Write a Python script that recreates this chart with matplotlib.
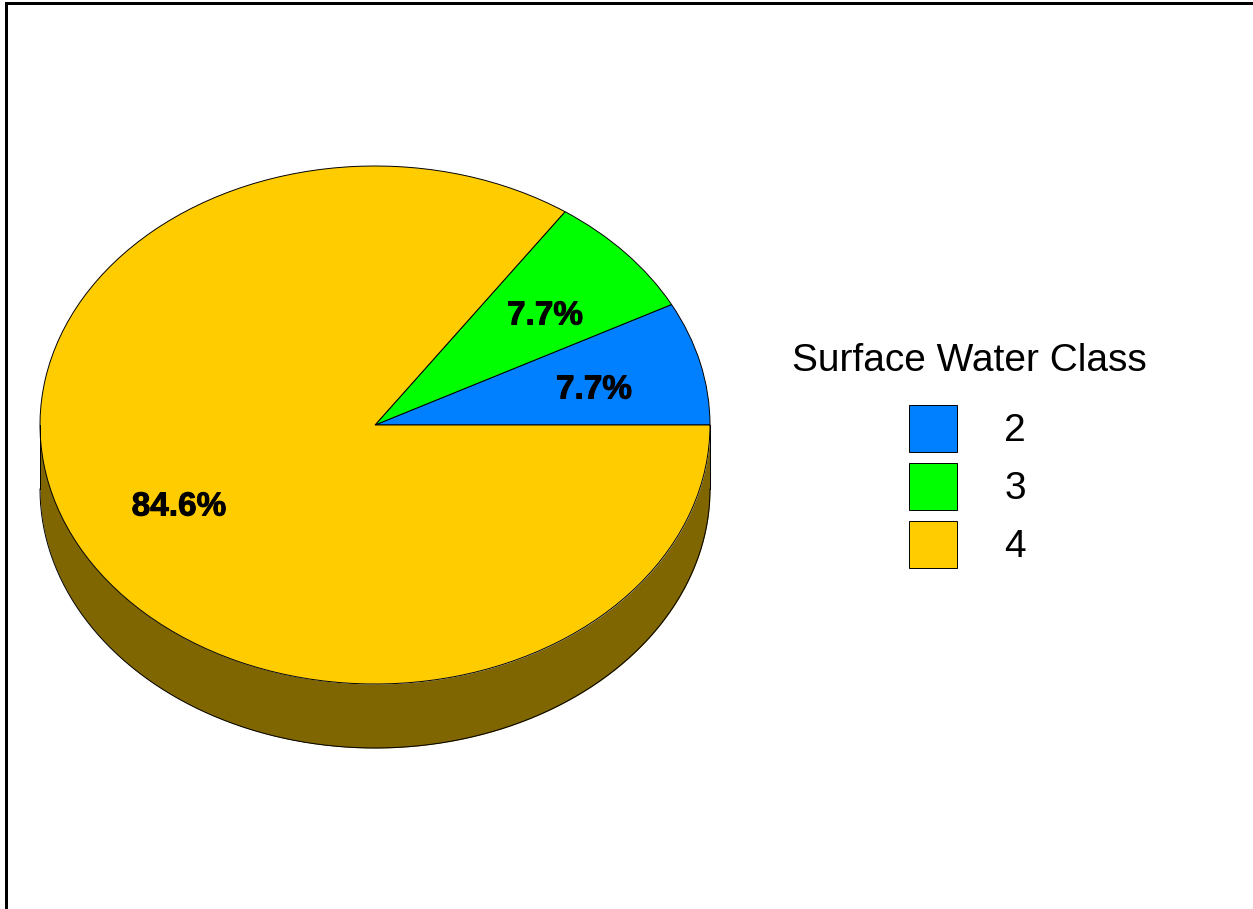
# camembert "3D" : Surface Water Class
import numpy as np
import matplotlib
matplotlib.use('Agg')
import matplotlib.pyplot as plt
from matplotlib.patches import Rectangle
import matplotlib.patheffects as pe

# les données
classes = ['2', '3', '4']
percents = [7.7, 7.7, 84.6]
colors = ['#0080FF', '#00FF00', '#FFCC00']
side_color = '#806600'
legend_title = 'Surface Water Class'

W, H = 1253, 909
plt.rcParams['font.family'] = ['Liberation Sans', 'DejaVu Sans']

fig = plt.figure(figsize=(W / 100, H / 100), dpi=100)
ax = fig.add_axes([0, 0, 1, 1])

# pixels -> fraction de la figure
def fx(x):
    return x / W

def fy(y):
    return 1 - y / H

# centre et rayons de l'ellipse, en pixels
cx, cy, rx, ry, depth = 375, 425, 335, 259, 64

# le flanc du camembert
t = np.linspace(np.pi, 2 * np.pi, 200)
ax.fill_between(np.cos(t), np.sin(t) - depth / ry, np.sin(t), color=side_color, lw=0)
ax.plot(np.cos(t), np.sin(t) - depth / ry, color='black', lw=0.7)
ax.plot([-1, -1], [0, -depth / ry], color='black', lw=0.7)
ax.plot([1, 1], [0, -depth / ry], color='black', lw=0.7)

# le dessus
ax.pie(percents, colors=colors, startangle=0, counterclock=True, radius=1, center=(0, 0),
       wedgeprops={'edgecolor': 'black', 'linewidth': 0.7}, normalize=True, frame=True)

# on écrase le cercle en ellipse via les limites
ax.set_aspect('auto')
ax.set_xlim(-cx / rx, (W - cx) / rx)
ax.set_ylim(-(H - cy) / ry, cy / ry)
ax.axis('off')

# les pourcentages
label_pos = [(594, 390), (545, 316), (179, 507)]
for pct, (x, y) in zip(percents, label_pos):
    txt = fig.text(fx(x), fy(y), '%.1f%%' % pct, ha='center', va='center', fontsize=24, fontweight='bold')
    # le texte de l'original est un peu plus gras
    txt.set_path_effects([pe.withStroke(linewidth=0.7, foreground='black')])

# la légende
fig.text(fx(969.5), fy(361), legend_title, ha='center', va='center', fontsize=28)
for i, (name, col) in enumerate(zip(classes, colors)):
    top = 405 + i * 58
    fig.add_artist(Rectangle((fx(909), fy(top + 47)), 48 / W, 47 / H, transform=fig.transFigure,
                             facecolor=col, edgecolor='black', lw=0.7))
    fig.text(fx(1015), fy(top + 26), name, ha='center', va='center', fontsize=28)

# le cadre haut et gauche
fig.add_artist(Rectangle((fx(5), fy(H + 5)), 3 / W, (H + 3) / H, transform=fig.transFigure,
                         facecolor='black', edgecolor='none'))
fig.add_artist(Rectangle((fx(5), fy(5)), (W - 5) / W, 3 / H, transform=fig.transFigure,
                         facecolor='black', edgecolor='none'))

fig.savefig('out.png', dpi=100)
